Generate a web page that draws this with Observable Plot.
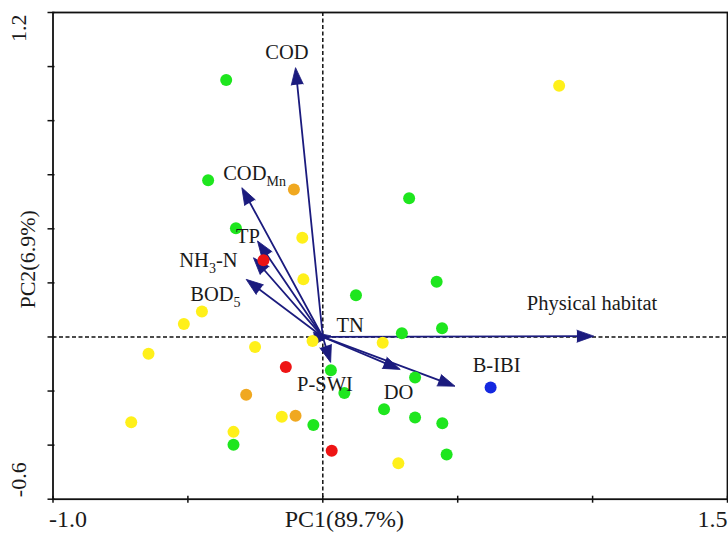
<!DOCTYPE html>
<html><head><meta charset="utf-8">
<script src="https://cdn.jsdelivr.net/npm/d3@7"></script>
<script src="https://cdn.jsdelivr.net/npm/@observablehq/plot@0.6"></script>
<style>
html,body{margin:0;padding:0;background:#fff}
#chart svg{display:block}
</style>
</head><body><div id="chart"></div>
<script>
// ---- site scores (PC1, PC2) and health grade ----
const siteX = [-0.358,0.876,-0.425,-0.107,0.320,-0.322,-0.076,-0.220,-0.072,0.422,0.123,-0.448,-0.515,0.293,0.442,-0.646,-0.251,-0.038,0.222,-0.137,0.030,0.080,0.342,0.622,-0.284,0.227,0.342,0.443,-0.710,-0.152,-0.101,-0.035,-0.331,-0.331,0.033,0.459,0.280];
const siteY = [0.950,0.929,0.580,0.545,0.513,0.402,0.367,0.284,0.213,0.204,0.154,0.094,0.048,0.014,0.032,-0.062,-0.037,-0.015,-0.021,-0.111,-0.123,-0.207,-0.150,-0.187,-0.214,-0.267,-0.298,-0.319,-0.315,-0.295,-0.291,-0.326,-0.351,-0.399,-0.421,-0.435,-0.467];
const siteGrade = ["G","Y","G","O","G","G","Y","R","Y","G","G","Y","Y","G","G","Y","Y","Y","Y","R","G","G","G","B","O","G","G","G","Y","Y","O","G","Y","G","R","G","Y"];
const gradeDomain = ["B","G","Y","O","R"];
const gradeColors = ["#1428e0","#1ee61e","#fff01a","#f0a820","#ee1414"];

// ---- variable loadings (arrow tips) and label anchors ----
const varNames = ["COD","COD_{Mn}","TP","NH_{3}-N","BOD_{5}","TN","P-SWI","DO","B-IBI","Physical habitat"];
const varX = [-0.101,-0.300,-0.242,-0.257,-0.284,0.030,0.029,0.287,0.490,1.005];
const varY = [0.996,0.552,0.355,0.293,0.213,0.004,-0.094,-0.120,-0.182,0.003];
const labelX = [-0.133,-0.253,-0.277,-0.424,-0.398,0.101,0.008,0.281,0.644,0.998];
const labelY = [1.052,0.604,0.372,0.283,0.157,0.044,-0.176,-0.206,-0.107,0.124];

// ---- axes ----
const xDomain = [-1.0, 1.5];
const yDomain = [-0.6, 1.2];
const xTickValues = [-1.0,-0.5,0,0.5,1.0,1.5];
const yTickValues = [-0.6,-0.4,-0.2,0,0.2,0.4,0.6,0.8,1.0,1.2];
const xEndLabels = ["-1.0","1.5"];
const yEndLabels = ["-0.6","1.2"];
const xTitle = "PC1(89.7%)";
const yTitle = "PC2(6.9%)";

const W = 728, H = 537;
const mL = 52.5, mR = 1, mT = 12, mB = 38.3;
const kx = (W - mL - mR) / (xDomain[1] - xDomain[0]);
const ky = (H - mT - mB) / (yDomain[1] - yDomain[0]);

const sites = siteX.map((x, i) => ({x, y: siteY[i], grade: siteGrade[i]}));
const loadings = varNames.map((name, i) => ({
  name, x: varX[i], y: varY[i], lx: labelX[i], ly: labelY[i],
  angle: Math.atan2(varX[i] * kx, varY[i] * ky) * 180 / Math.PI
}));

const navy = "#1b1b7e";
const serif = "Liberation Serif, Times New Roman, serif";

const chart = Plot.plot({
  width: W, height: H,
  marginLeft: mL, marginRight: mR, marginTop: mT, marginBottom: mB,
  style: {fontFamily: serif, background: "#fff"},
  x: {domain: xDomain, axis: null},
  y: {domain: yDomain, axis: null},
  color: {domain: gradeDomain, range: gradeColors},
  marks: [
    Plot.ruleX([0], {stroke: "#111", strokeWidth: 1.5, strokeDasharray: "4,2.5"}),
    Plot.ruleY([0], {stroke: "#111", strokeWidth: 1.5, strokeDasharray: "4,2.5"}),
    // tick marks crossing the frame
    Plot.ruleX(xTickValues, {x: d => d, y1: yDomain[0], y2: yDomain[0], insetTop: -3, insetBottom: -4, stroke: "#111", strokeWidth: 1.5}),
    Plot.ruleY(yTickValues, {y: d => d, x1: xDomain[0], x2: xDomain[0], insetLeft: -5, insetRight: -2, stroke: "#111", strokeWidth: 1.5}),
    // arrow shafts
    Plot.arrow(loadings, {x1: 0, y1: 0, x2: "x", y2: "y", stroke: navy, strokeWidth: 1.8, headLength: 0, insetEnd: 8}),
    // arrow heads
    Plot.vector(loadings, {x: "x", y: "y", rotate: "angle", length: 17, r: 6, shape: "spike", anchor: "end", fill: navy, stroke: navy, strokeWidth: 0.8}),
    // site points
    Plot.dot(sites, {x: "x", y: "y", r: 6, fill: "grade", stroke: null}),
    // variable labels
    Plot.text(loadings, {x: "lx", y: "ly", text: "name", fontSize: 20.5, fill: "#1a1a1a", fontFamily: serif}),
    // axis end labels
    Plot.text([xDomain[0]], {x: d => d, frameAnchor: "bottom", dy: 28, dx: -4, text: () => xEndLabels[0], textAnchor: "start", fontSize: 24, fill: "#1a1a1a"}),
    Plot.text([xDomain[1]], {x: d => d, frameAnchor: "bottom", dy: 28, text: () => xEndLabels[1], textAnchor: "end", fontSize: 24, fill: "#1a1a1a"}),
    Plot.text([0.08], {x: d => d, frameAnchor: "bottom", dy: 28, text: () => xTitle, fontSize: 24, fill: "#1a1a1a"}),
    Plot.text([yDomain[1]], {y: d => d, frameAnchor: "left", dx: -34.5, dy: 2, rotate: -90, text: () => yEndLabels[1], textAnchor: "end", fontSize: 22, fill: "#1a1a1a"}),
    Plot.text([yDomain[0]], {y: d => d, frameAnchor: "left", dx: -34.5, dy: -2, rotate: -90, text: () => yEndLabels[0], textAnchor: "start", fontSize: 22, fill: "#1a1a1a"}),
    Plot.text([0.105], {y: d => d, frameAnchor: "left", dx: -25.5, rotate: -90, text: () => yTitle, fontSize: 22, fill: "#1a1a1a"}),
    Plot.frame({stroke: "#111", strokeWidth: 1.8})
  ]
});

// render subscripts written as X_{sub}
d3.select(chart).selectAll("text").each(function() {
  const s = this.textContent;
  if (!s.includes("_{")) return;
  const parts = [];
  const re = /_\{([^}]*)\}/g;
  let last = 0, m;
  while ((m = re.exec(s))) {
    if (m.index > last) parts.push({t: s.slice(last, m.index), sub: false});
    parts.push({t: m[1], sub: true});
    last = re.lastIndex;
  }
  if (last < s.length) parts.push({t: s.slice(last), sub: false});
  const el = d3.select(this);
  el.text(null);
  let shifted = false;
  for (const p of parts) {
    const ts = el.append("tspan").text(p.t);
    if (p.sub) { ts.attr("font-size", 14).attr("dy", shifted ? null : 6); shifted = true; }
    else { if (shifted) ts.attr("dy", -6); shifted = false; }
  }
});

document.getElementById("chart").appendChild(chart);
</script>
</body></html>
